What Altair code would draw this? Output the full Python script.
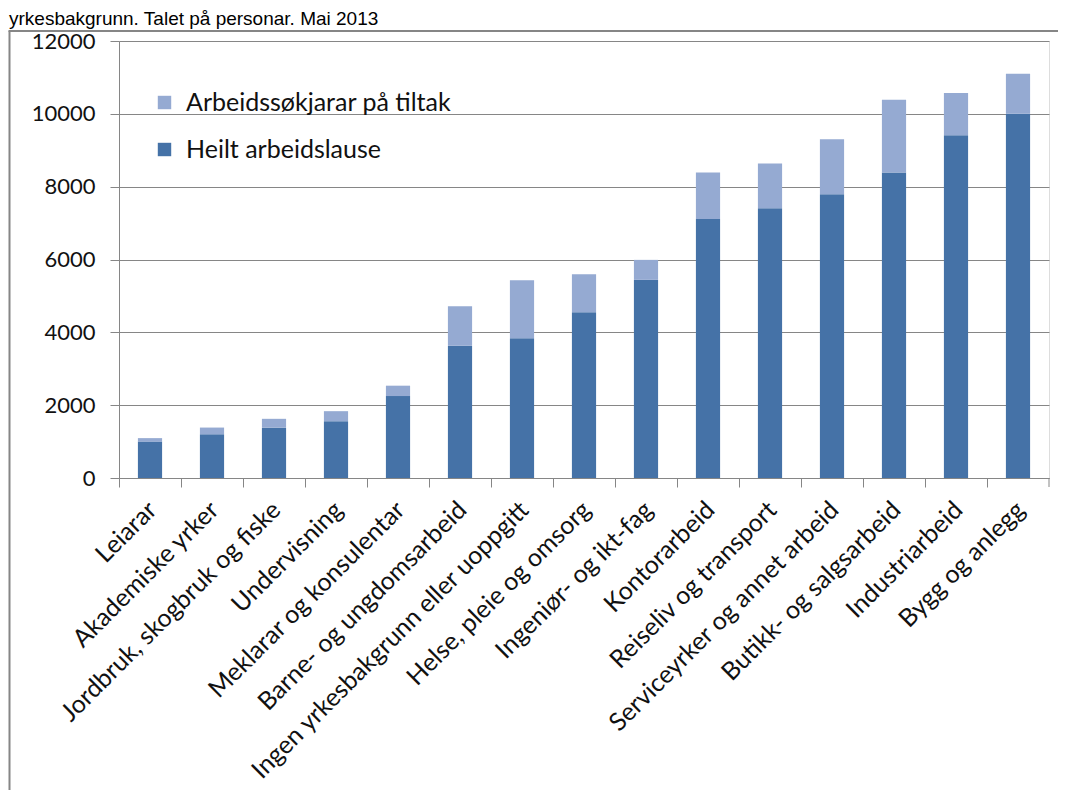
import altair as alt
import pandas as pd

categories = ["Leiarar", "Akademiske yrker", "Jordbruk, skogbruk og fiske", "Undervisning",
              "Meklarar og konsulentar", "Barne- og ungdomsarbeid",
              "Ingen yrkesbakgrunn eller uoppgitt", "Helse, pleie og omsorg",
              "Ingeniør- og ikt-fag", "Kontorarbeid", "Reiseliv og transport",
              "Serviceyrker og annet arbeid", "Butikk- og salgsarbeid", "Industriarbeid",
              "Bygg og anlegg"]
heilt = [1000, 1200, 1380, 1560, 2250, 3630, 3840, 4550, 5440, 7115, 7410, 7795, 8390, 9415, 10000]
tiltak = [95, 185, 245, 275, 285, 1085, 1590, 1045, 550, 1275, 1225, 1510, 2000, 1155, 1100]
series = ["Arbeidssøkjarar på tiltak", "Heilt arbeidslause"]
colors = ["#95AAD2", "#4572A7"]
y_ticks = [0, 2000, 4000, 6000, 8000, 10000, 12000]
title_text = "yrkesbakgrunn. Talet på personar. Mai 2013"

rows = []
for c, h, t in zip(categories, heilt, tiltak):
    rows.append({"kat": c, "serie": series[1], "verdi": h, "ord": 0})
    rows.append({"kat": c, "serie": series[0], "verdi": t, "ord": 1})
df = pd.DataFrame(rows)

GRID = "#868686"
FONT = "Lato"

bars = alt.Chart(df).mark_bar(width={"band": 0.39}).encode(
    x=alt.X("kat:N", sort=categories, title=None,
            scale=alt.Scale(paddingInner=0, paddingOuter=0),
            axis=alt.Axis(bandPosition=0, labelAngle=-45, labelFont=FONT, labelFontSize=25,
                          labelColor="#111111", tickColor=GRID, tickSize=9, domainColor=GRID,
                          labelPadding=10, labelOffset=-6, grid=False, labelLimit=600)),
    y=alt.Y("verdi:Q", stack="zero", title=None,
            scale=alt.Scale(domain=[0, 12000], nice=False),
            axis=alt.Axis(values=y_ticks, format="d", labelFont=FONT, labelFontSize=22,
                          labelColor="#111111", tickColor=GRID, tickSize=9, domainColor=GRID,
                          gridColor=GRID, gridWidth=1.2, labelPadding=15)),
    color=alt.Color("serie:N", scale=alt.Scale(domain=series, range=colors),
                    legend=alt.Legend(title=None, orient="none", legendX=33, legendY=49,
                                      symbolType="square", symbolSize=180, symbolStrokeWidth=0,
                                      labelFont=FONT, labelFontSize=25, labelColor="#111111",
                                      labelOffset=9, rowPadding=21, padding=0, labelLimit=600)),
    order=alt.Order("ord:Q"),
)

one = pd.DataFrame({"t": [title_text]})
title = alt.Chart(one).mark_text(font="Liberation Sans", fontSize=19, align="left",
                                 baseline="alphabetic", color="#000000").encode(
    x=alt.value(-110), y=alt.value(-16), text="t:N")
frame_left = alt.Chart(one).mark_rule(color=GRID, strokeWidth=2).encode(
    x=alt.value(-109.5), y=alt.value(-10), y2=alt.value(760))
frame_top = alt.Chart(one).mark_rule(color=GRID, strokeWidth=2).encode(
    x=alt.value(-110.5), x2=alt.value(960), y=alt.value(-10))
end_tick = alt.Chart(one).mark_rule(color=GRID, strokeWidth=1).encode(
    x=alt.value(930), y=alt.value(437), y2=alt.value(446))

chart = alt.layer(bars, title, frame_left, frame_top, end_tick).properties(
    width=930, height=437,
    padding={"left": 111, "top": 33, "right": 9, "bottom": 312},
    autosize=alt.AutoSizeParams(type="none"),
).configure_view(stroke=None).configure(background="#ffffff")

chart.save("out.html", embed_options={"renderer": "svg", "actions": False})
